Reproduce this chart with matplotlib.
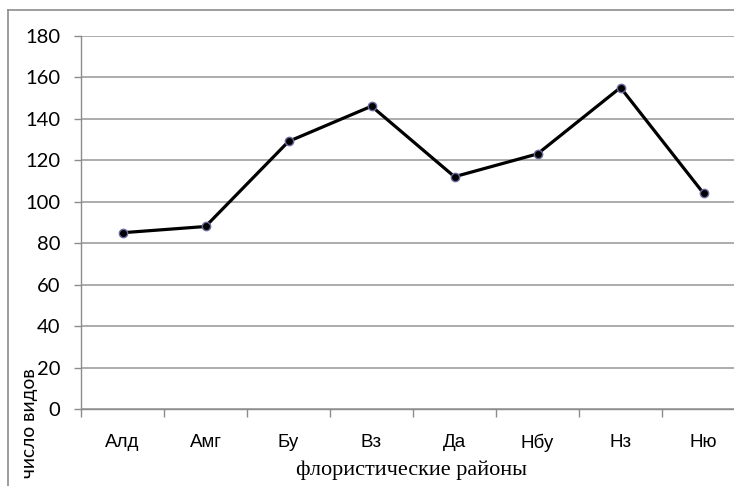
import matplotlib
matplotlib.use("Agg")
import matplotlib.pyplot as plt
from matplotlib.lines import Line2D

# data
regions = ["Алд", "Амг", "Бу", "Вз", "Да", "Нбу", "Нз", "Ню"]
species = [85, 88, 129, 146, 112, 123, 155, 104]
y_ticks = [0, 20, 40, 60, 80, 100, 120, 140, 160, 180]

W, H = 734, 486
fig = plt.figure(figsize=(W / 100, H / 100), dpi=100)

# plot area runs past the right edge, as in the cropped original
ax = fig.add_axes([81 / W, 1 - 409 / H, (745 - 81) / W, (409 - 35.7) / H])
ax.set_xlim(-0.5, len(regions) - 0.5)
ax.set_ylim(0, 180)

x = list(range(len(regions)))
ax.plot(x, species, color="black", lw=2.3, marker="o", ms=6,
        mfc="black", mec="#6a6aa0", mew=1.0, zorder=3, clip_on=False)

ax.set_yticks(y_ticks)
ax.set_yticklabels([str(v) for v in y_ticks], fontfamily="Lato", fontsize=14.5)
ax.yaxis.grid(True, color="#a6a6a6", lw=1.3)
ax.set_axisbelow(True)

# category labels centred, tick marks between categories
ax.set_xticks(x)
ax.set_xticklabels(regions, fontfamily="Liberation Sans", fontsize=13.5)
ax.set_xticks([i + 0.5 for i in range(-1, len(regions))], minor=True)
ax.tick_params(axis="x", which="major", length=0, pad=18)
ax.tick_params(axis="x", which="minor", length=6, color="#8c8c8c", width=1)
ax.tick_params(axis="y", length=5, color="#8c8c8c", width=1, pad=10)

for side in ["top", "right"]:
    ax.spines[side].set_visible(False)
for side in ["left", "bottom"]:
    ax.spines[side].set_color("#8c8c8c")
    ax.spines[side].set_linewidth(1)

# the reference crop cuts this title at the bottom edge; keep it nearly whole
fig.text(29 / W, 1 - 368 / H, "число видов", rotation=90, ha="center", va="top",
         fontfamily="Lato", fontsize=13.8)
fig.text(411 / W, 1 - 475 / H, "флористические районы", ha="center", va="baseline",
         fontfamily="Liberation Serif", fontsize=16)

# outer chart frame (only left and top edges are inside the crop)
fig.add_artist(Line2D([7.5 / W, 7.5 / W], [0, 1 - 10 / H], color="#8c8c8c", lw=1.2))
fig.add_artist(Line2D([7.5 / W, 1], [1 - 10 / H, 1 - 10 / H], color="#8c8c8c", lw=1.2))

fig.savefig("out.png", dpi=100)
